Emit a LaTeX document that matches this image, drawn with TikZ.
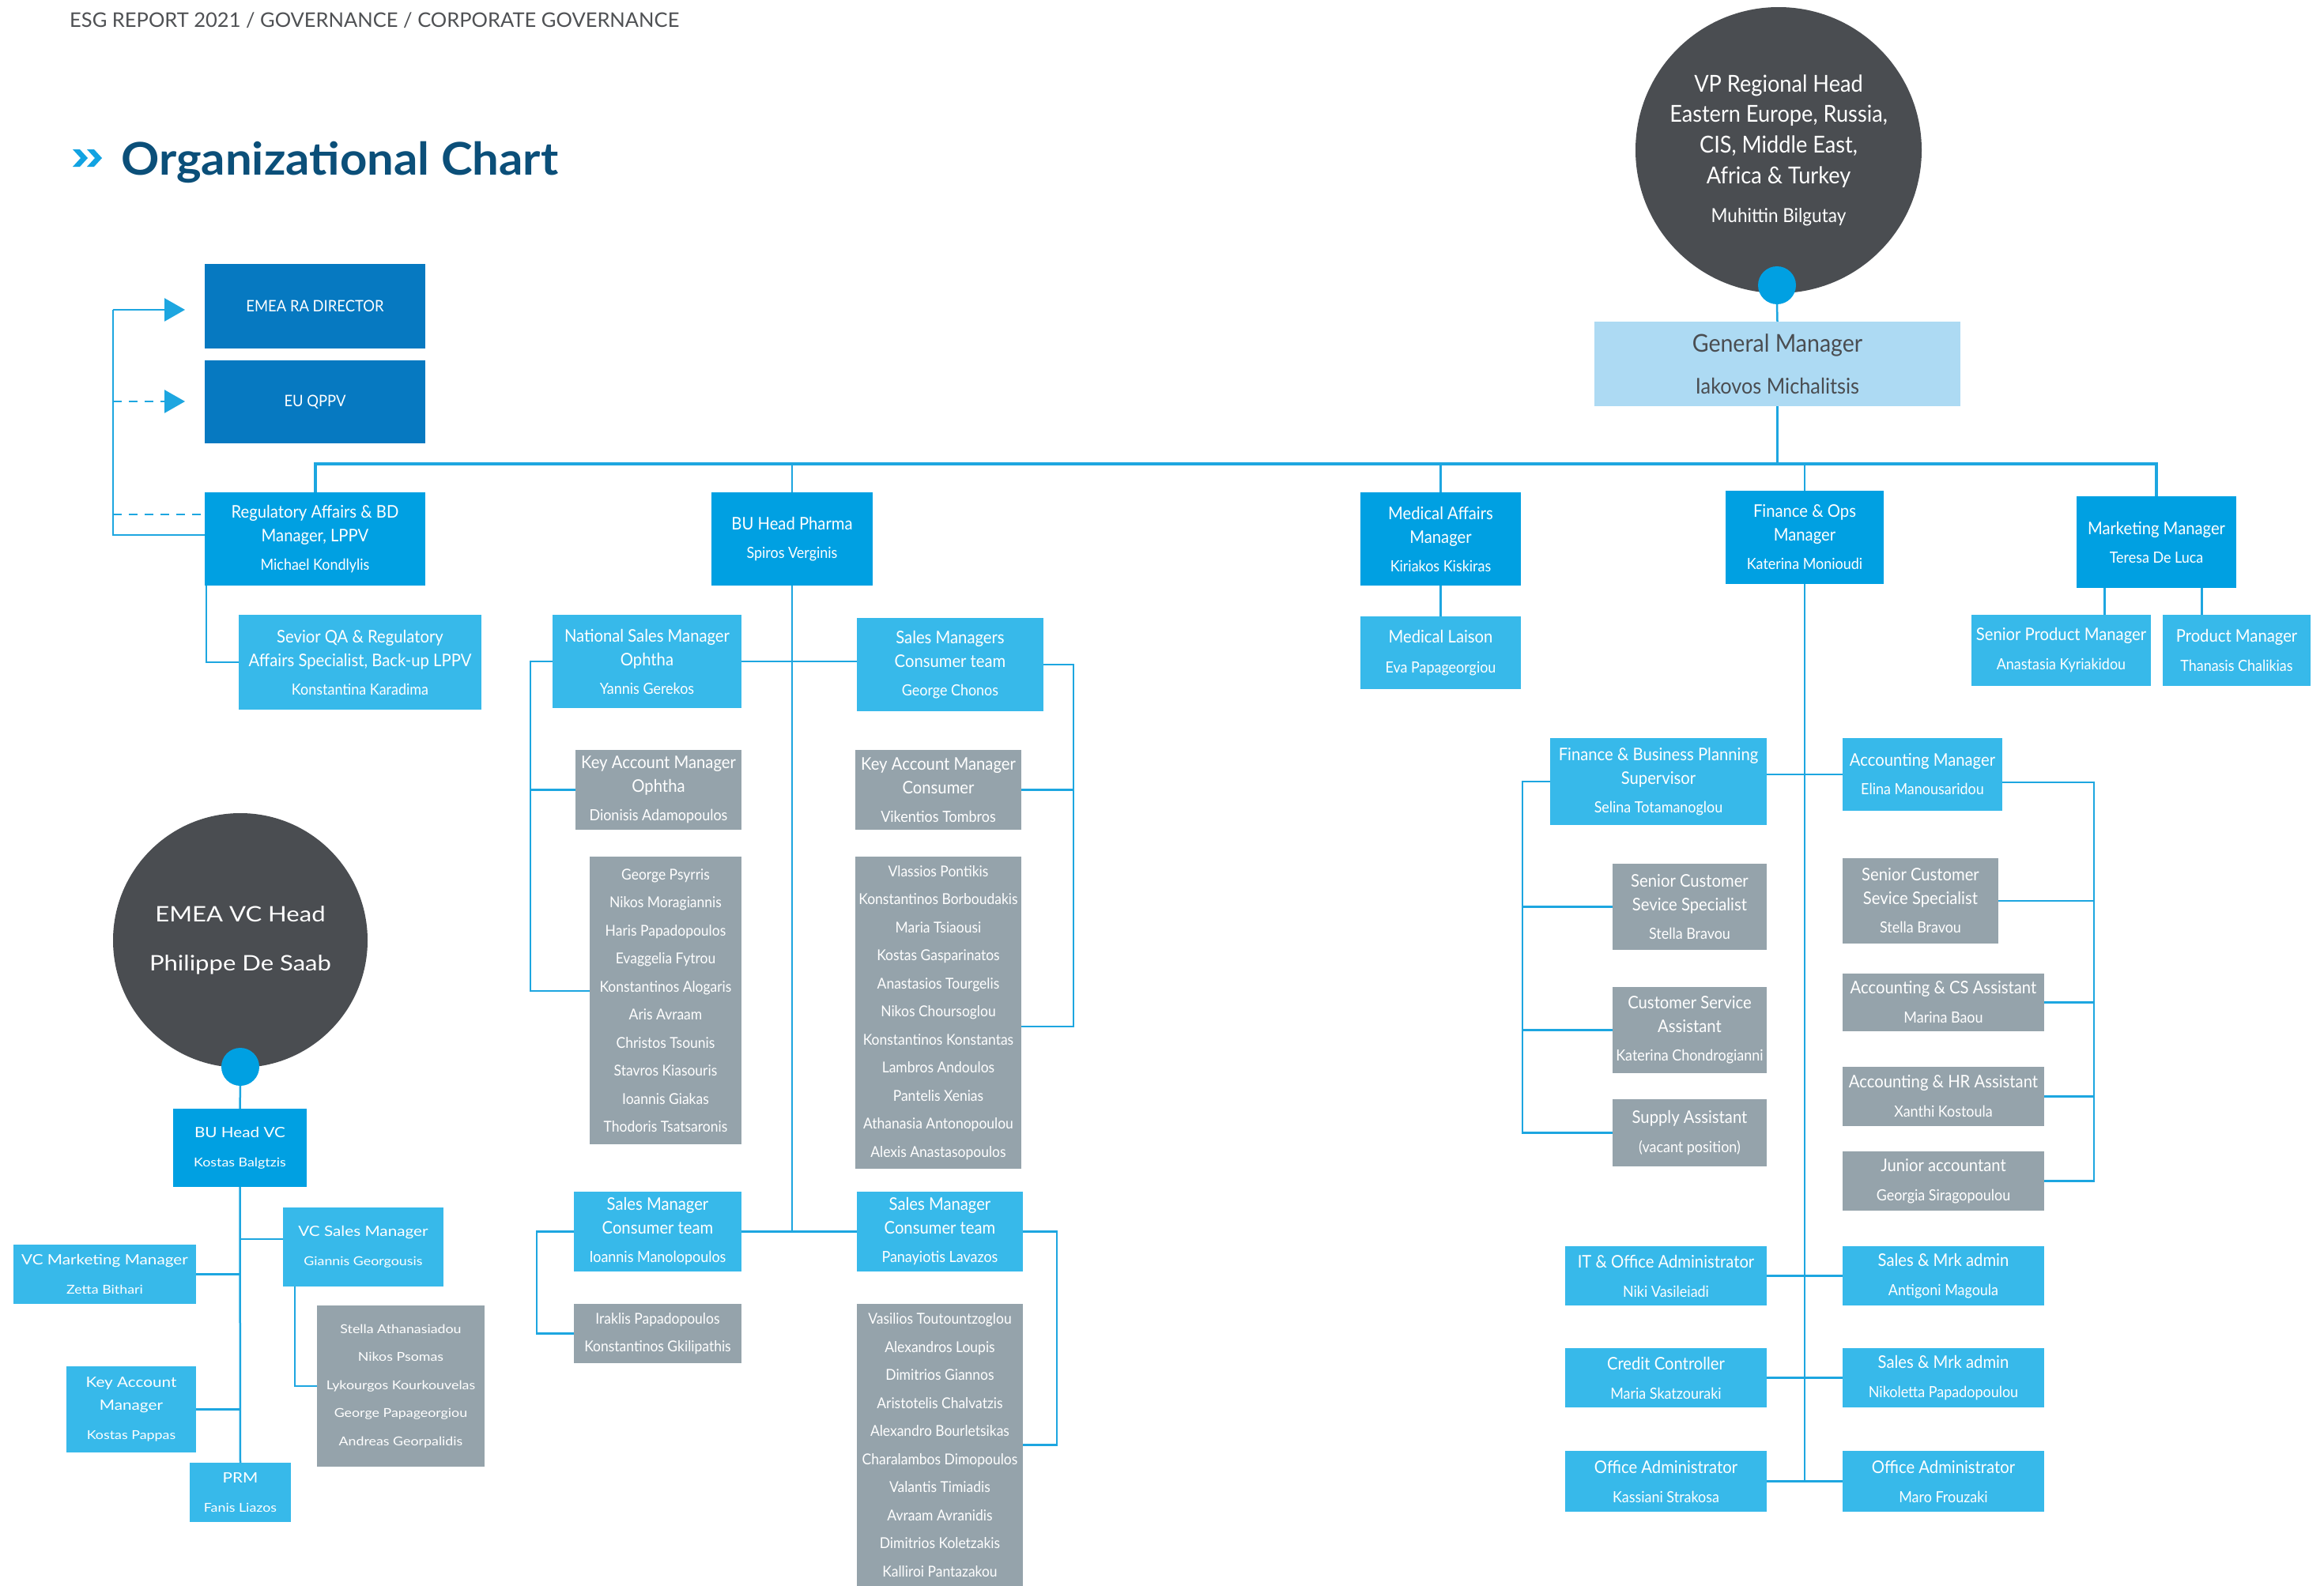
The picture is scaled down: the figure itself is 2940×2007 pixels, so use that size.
\documentclass[tikz,border=0pt]{standalone}
\usepackage{fontspec}
\usetikzlibrary{arrows.meta}
\setmainfont{Lato}
\newfontfamily\la{Lato}[FakeStretch=0.92]
\newfontfamily\law{Lato}[FakeStretch=1.15]
\newfontfamily\lab{Lato}[FakeStretch=1.05]
\newfontfamily\lah{Lato}[FakeStretch=1.0]
\definecolor{cDark}{RGB}{6,121,193}
\definecolor{cMid}{RGB}{0,160,226}
\definecolor{cLight}{RGB}{55,185,234}
\definecolor{cGray}{RGB}{149,163,171}
\definecolor{cCirc}{RGB}{74,77,81}
\definecolor{cGM}{RGB}{173,218,243}
\definecolor{cLine}{RGB}{29,166,224}
\definecolor{cTitle}{RGB}{11,79,121}
\definecolor{cHdr}{RGB}{79,81,84}
\definecolor{cChev}{RGB}{18,163,226}
\newcommand\nm{\fontsize{19.5}{30}\selectfont}
\newcommand\vnm{\fontsize{15.5}{29}\selectfont}
\newcommand\gnm{\fontsize{27.5}{53}\selectfont}
\newcommand\cnm{\fontsize{24.5}{38.7}\selectfont}
\newcommand\bx[7]{\node[#6, minimum width={(#4-#2)*1pt}, minimum height={(#5-#3)*1pt}] (#1) at ({(#2+#4)/2},{(#3+#5)/2}) {#7};}
\tikzset{
  bx/.style={rectangle, inner sep=0pt, outer sep=0pt, align=center, text=white, font=\la\fontsize{22}{30}\selectfont},
  db/.style={bx, fill=cDark, font=\la\fontsize{20}{30}\selectfont},
  mb/.style={bx, fill=cMid},
  lb/.style={bx, fill=cLight},
  gb/.style={bx, fill=cGray},
  gl/.style={bx, fill=cGray, font=\la\fontsize{19}{35.5}\selectfont},
  vmb/.style={bx, fill=cMid, font=\law\fontsize{18}{29}\selectfont},
  vlb/.style={bx, fill=cLight, font=\law\fontsize{18}{29}\selectfont},
  vgl/.style={bx, fill=cGray, font=\law\fontsize{15.5}{35.5}\selectfont},
  gmb/.style={bx, fill=cGM, text=cCirc, font=\la\fontsize{31}{53}\selectfont},
  ln/.style={draw=cLine, line width=2.5pt},
  busln/.style={draw=cLine, line width=4pt},
  dsh/.style={dash pattern=on 11pt off 9pt},
  tri/.style={-{Triangle[length=26pt,width=29pt]}, shorten >=25pt},
  dot/.style={circle, fill=cMid, minimum size=48pt, inner sep=0pt}
}
\begin{document}
\begin{tikzpicture}[x=1pt,y=-1pt]
\fill[white] (0,0) rectangle (2940,2007);
\useasboundingbox (0,0) rectangle (2940,2007);

% header and title
\node[anchor=base west, inner sep=0pt, text=cHdr, font=\lah\fontsize{25.5}{30}\selectfont] (hdr) at (88,35) {ESG REPORT 2021 / GOVERNANCE / CORPORATE GOVERNANCE};
\fill[cChev] (92,189) -- (101,189) -- (111,200) -- (101,211) -- (92,211) -- (102,200) -- cycle;
\fill[cChev] (110,189) -- (119,189) -- (129,200) -- (119,211) -- (110,211) -- (120,200) -- cycle;
\node[anchor=base west, inner sep=0pt, text=cTitle, font=\lab\bfseries\fontsize{57}{62}\selectfont] (ttl) at (153,221) {Organizational Chart};

% regulatory
\bx{emea}{259}{334}{538}{441}{db}{EMEA RA DIRECTOR}
\bx{qppv}{259}{456}{538}{561}{db}{EU QPPV}
\bx{reg}{259}{623}{538}{741}{mb}{Regulatory Affairs \& BD\\Manager, LPPV\\[6pt]\nm Michael Kondlylis}
\bx{sev}{302}{778}{609}{898}{lb}{Sevior QA \& Regulatory\\Affairs Specialist, Back-up LPPV\\[6pt]\nm Konstantina Karadima}

% VP and GM
\node[circle, fill=cCirc, minimum size=362pt, inner sep=0pt, text=white, align=center, font=\la\fontsize{29.5}{38.7}\selectfont] (vp) at (2250,190) {VP Regional Head\\Eastern Europe, Russia,\\CIS, Middle East,\\Africa \& Turkey\\[10pt]\cnm Muhittin Bilgutay};
\node[dot] (vpdot) at (2248,361) {};
\bx{gm}{2017}{407}{2480}{514}{gmb}{General Manager\\\gnm Iakovos Michalitsis}

% pharma
\bx{pharma}{900}{623}{1104}{741}{mb}{BU Head Pharma\\[6pt]\nm Spiros Verginis}
\bx{nsm}{699}{778}{938}{896}{lb}{National Sales Manager\\Ophtha\\[6pt]\nm Yannis Gerekos}
\bx{smct}{1084}{782}{1320}{900}{lb}{Sales Managers\\Consumer team\\[6pt]\nm George Chonos}
\bx{kamo}{728}{949}{938}{1050}{gb}{Key Account Manager\\Ophtha\\[6pt]\nm Dionisis Adamopoulos}
\bx{kamc}{1082}{949}{1292}{1050}{gb}{Key Account Manager\\Consumer\\[6pt]\nm Vikentios Tombros}
\bx{glL}{746}{1084}{938}{1448}{gl}{George Psyrris\\Nikos Moragiannis\\Haris Papadopoulos\\Evaggelia Fytrou\\Konstantinos Alogaris\\Aris Avraam\\Christos Tsounis\\Stavros Kiasouris\\Ioannis Giakas\\Thodoris Tsatsaronis}
\bx{glR}{1082}{1084}{1292}{1479}{gl}{Vlassios Pontikis\\Konstantinos Borboudakis\\Maria Tsiaousi\\Kostas Gasparinatos\\Anastasios Tourgelis\\Nikos Choursoglou\\Konstantinos Konstantas\\Lambros Andoulos\\Pantelis Xenias\\Athanasia Antonopoulou\\Alexis Anastasopoulos}
\bx{smi}{726}{1508}{938}{1609}{lb}{Sales Manager\\Consumer team\\[6pt]\nm Ioannis Manolopoulos}
\bx{smp}{1084}{1508}{1294}{1609}{lb}{Sales Manager\\Consumer team\\[6pt]\nm Panayiotis Lavazos}
\bx{gli}{726}{1650}{938}{1725}{gl}{Iraklis Papadopoulos\\Konstantinos Gkilipathis}
\bx{glR2}{1084}{1650}{1294}{2007}{gl}{Vasilios Toutountzoglou\\Alexandros Loupis\\Dimitrios Giannos\\Aristotelis Chalvatzis\\Alexandro Bourletsikas\\Charalambos Dimopoulos\\Valantis Timiadis\\Avraam Avranidis\\Dimitrios Koletzakis\\Kalliroi Pantazakou}

% medical
\bx{mam}{1721}{623}{1924}{741}{mb}{Medical Affairs\\Manager\\[6pt]\nm Kiriakos Kiskiras}
\bx{ml}{1721}{780}{1924}{872}{lb}{Medical Laison\\[8pt]\nm Eva Papageorgiou}

% finance
\bx{fo}{2183}{621}{2383}{739}{mb}{Finance \& Ops\\Manager\\[6pt]\nm Katerina Monioudi}
\bx{fbps}{1961}{934}{2235}{1044}{lb}{Finance \& Business Planning\\Supervisor\\[6pt]\nm Selina Totamanoglou}
\bx{accm}{2331}{934}{2533}{1026}{lb}{Accounting Manager\\[6pt]\nm Elina Manousaridou}
\bx{scssL}{2040}{1093}{2235}{1202}{gb}{Senior Customer\\Sevice Specialist\\[6pt]\nm Stella Bravou}
\bx{csa}{2040}{1249}{2235}{1358}{gb}{Customer Service\\Assistant\\[6pt]\nm Katerina Chondrogianni}
\bx{sup}{2040}{1391}{2235}{1476}{gb}{Supply Assistant\\[7pt]\nm (vacant position)}
\bx{scssR}{2331}{1086}{2528}{1194}{gb}{Senior Customer\\Sevice Specialist\\[6pt]\nm Stella Bravou}
\bx{acs}{2331}{1232}{2586}{1305}{gb}{Accounting \& CS Assistant\\[7pt]\nm Marina Baou}
\bx{ahr}{2331}{1350}{2586}{1425}{gb}{Accounting \& HR Assistant\\[7pt]\nm Xanthi Kostoula}
\bx{jr}{2331}{1457}{2586}{1532}{gb}{Junior accountant\\[7pt]\nm Georgia Siragopoulou}
\bx{it}{1980}{1577}{2235}{1652}{lb}{IT \& Office Administrator\\[7pt]\nm Niki Vasileiadi}
\bx{sm1}{2331}{1577}{2586}{1652}{lb}{Sales \& Mrk admin\\[7pt]\nm Antigoni Magoula}
\bx{cc}{1980}{1706}{2235}{1781}{lb}{Credit Controller\\[7pt]\nm Maria Skatzouraki}
\bx{sm2}{2331}{1706}{2586}{1781}{lb}{Sales \& Mrk admin\\[7pt]\nm Nikoletta Papadopoulou}
\bx{oa1}{1980}{1836}{2235}{1913}{lb}{Office Administrator\\[7pt]\nm Kassiani Strakosa}
\bx{oa2}{2331}{1836}{2586}{1913}{lb}{Office Administrator\\[7pt]\nm Maro Frouzaki}

% marketing
\bx{mkt}{2627}{628}{2829}{744}{mb}{Marketing Manager\\[6pt]\nm Teresa De Luca}
\bx{spm}{2494}{778}{2721}{868}{lb}{Senior Product Manager\\[7pt]\nm Anastasia Kyriakidou}
\bx{pm}{2736}{778}{2923}{868}{lb}{Product Manager\\[7pt]\nm Thanasis Chalikias}

% VC
\node[circle, fill=cCirc, minimum size=322pt, inner sep=0pt, text=white, align=center, font=\law\fontsize{27}{62}\selectfont] (vc) at (304,1190) {EMEA VC Head\\Philippe De Saab};
\node[dot] (vcdot) at (304,1350) {};
\bx{buvc}{219}{1403}{388}{1502}{vmb}{BU Head VC\\[8pt]\vnm Kostas Balgtzis}
\bx{vcs}{358}{1528}{561}{1628}{vlb}{VC Sales Manager\\[8pt]\vnm Giannis Georgousis}
\bx{vcm}{17}{1575}{248}{1650}{vlb}{VC Marketing Manager\\[8pt]\vnm Zetta Bithari}
\bx{vcg}{401}{1652}{613}{1856}{vgl}{Stella Athanasiadou\\Nikos Psomas\\Lykourgos Kourkouvelas\\George Papageorgiou\\Andreas Georpalidis}
\bx{kamv}{84}{1729}{248}{1838}{vlb}{Key Account\\Manager\\[8pt]\vnm Kostas Pappas}
\bx{prm}{240}{1851}{368}{1926}{vlb}{PRM\\[8pt]\vnm Fanis Liazos}

% ---------- connectors ----------
\coordinate (spT) at (143,392);
\coordinate (spQ) at (143,508);
\coordinate (spD) at (143,651);
\coordinate (spB) at (143,677);
\draw[ln] (spB -| reg.west) -- (spB) -- (spT);
\draw[ln, tri] (spT) -- (spT -| emea.west);
\draw[ln, dsh] (spQ) -- ([xshift=-51pt]spQ -| qppv.west);
\draw[ln, tri] ([xshift=-52pt]spQ -| qppv.west) -- (spQ -| qppv.west);
\draw[ln, dsh] (spD) -- (spD -| reg.west);
\draw[ln] ([xshift=2pt]reg.south west) |- (sev.west);

\coordinate (bus) at (0,587);
\draw[busln] (reg.north) -- (reg.north |- bus) -- (mkt.north |- bus) -- (mkt.north);
\draw[ln] (vpdot.south) -- (gm.north);
\draw[ln] (gm.south) -- (gm.south |- bus);
\draw[ln] (pharma.north) -- (pharma.north |- bus);
\draw[ln] (mam.north) -- (mam.north |- bus);
\draw[ln] (fo.north) -- (fo.north |- bus);

% pharma
\coordinate (pL) at (671,0);
\coordinate (pR) at (1358,0);
\coordinate (qL) at (679,0);
\coordinate (qR) at (1337,0);
\draw[ln] (pharma.south) -- (pharma.south |- smi.east);
\draw[ln] (nsm.east) -- (nsm.east -| smct.west);
\draw[ln] (nsm.west) -- (nsm.west -| pL) |- ([yshift=12pt]glL.west);
\draw[ln] (kamo.west) -- (kamo.west -| pL);
\draw[ln] (smct.east) -- (smct.east -| pR) |- ([yshift=-17.5pt]glR.east);
\draw[ln] (kamc.east) -- (kamc.east -| pR);
\draw[ln] (smi.east) -- (smi.east -| smp.west);
\draw[ln] (smi.west) -- (smi.west -| qL) |- (gli.west);
\draw[ln] (smp.east) -- (smp.east -| qR) |- (glR2.east);

% medical
\draw[ln] (mam.south) -- (ml.north);

% finance
\coordinate (fL) at (1926,0);
\coordinate (fR) at (2649,0);
\draw[ln] (fo.south) -- (fo.south |- oa1.east);
\draw[ln] (fbps.east |- accm.west) -- (accm.west);
\draw[ln] (fbps.west) -- (fbps.west -| fL) |- (sup.west);
\draw[ln] (scssL.west) -- (scssL.west -| fL);
\draw[ln] (csa.west) -- (csa.west -| fL);
\draw[ln] ([yshift=-10pt]accm.east) -- ([yshift=-10pt]accm.east -| fR) |- (jr.east);
\draw[ln] (scssR.east) -- (scssR.east -| fR);
\draw[ln] (acs.east) -- (acs.east -| fR);
\draw[ln] (ahr.east) -- (ahr.east -| fR);
\draw[ln] (it.east) -- (it.east -| sm1.west);
\draw[ln] (cc.east) -- (cc.east -| sm2.west);
\draw[ln] (oa1.east) -- (oa1.east -| oa2.west);

% marketing
\draw[ln] ([xshift=55pt]spm.north) -- ([xshift=55pt]spm.north |- mkt.south);
\draw[ln] ([xshift=-44pt]pm.north) -- ([xshift=-44pt]pm.north |- mkt.south);

% VC
\coordinate (vB) at (373,0);
\draw[ln] (vcdot.south) -- (buvc.north);
\draw[ln] (buvc.south) -- (prm.north);
\draw[ln] ([yshift=10pt]vcs.west) -- ([yshift=10pt]vcs.west -| buvc.south);
\draw[ln] (vcm.east) -- (vcm.east -| buvc.south);
\draw[ln] (kamv.east) -- (kamv.east -| buvc.south);
\draw[ln] (vcs.south -| vB) |- (vcg.west);
\end{tikzpicture}
\end{document}
